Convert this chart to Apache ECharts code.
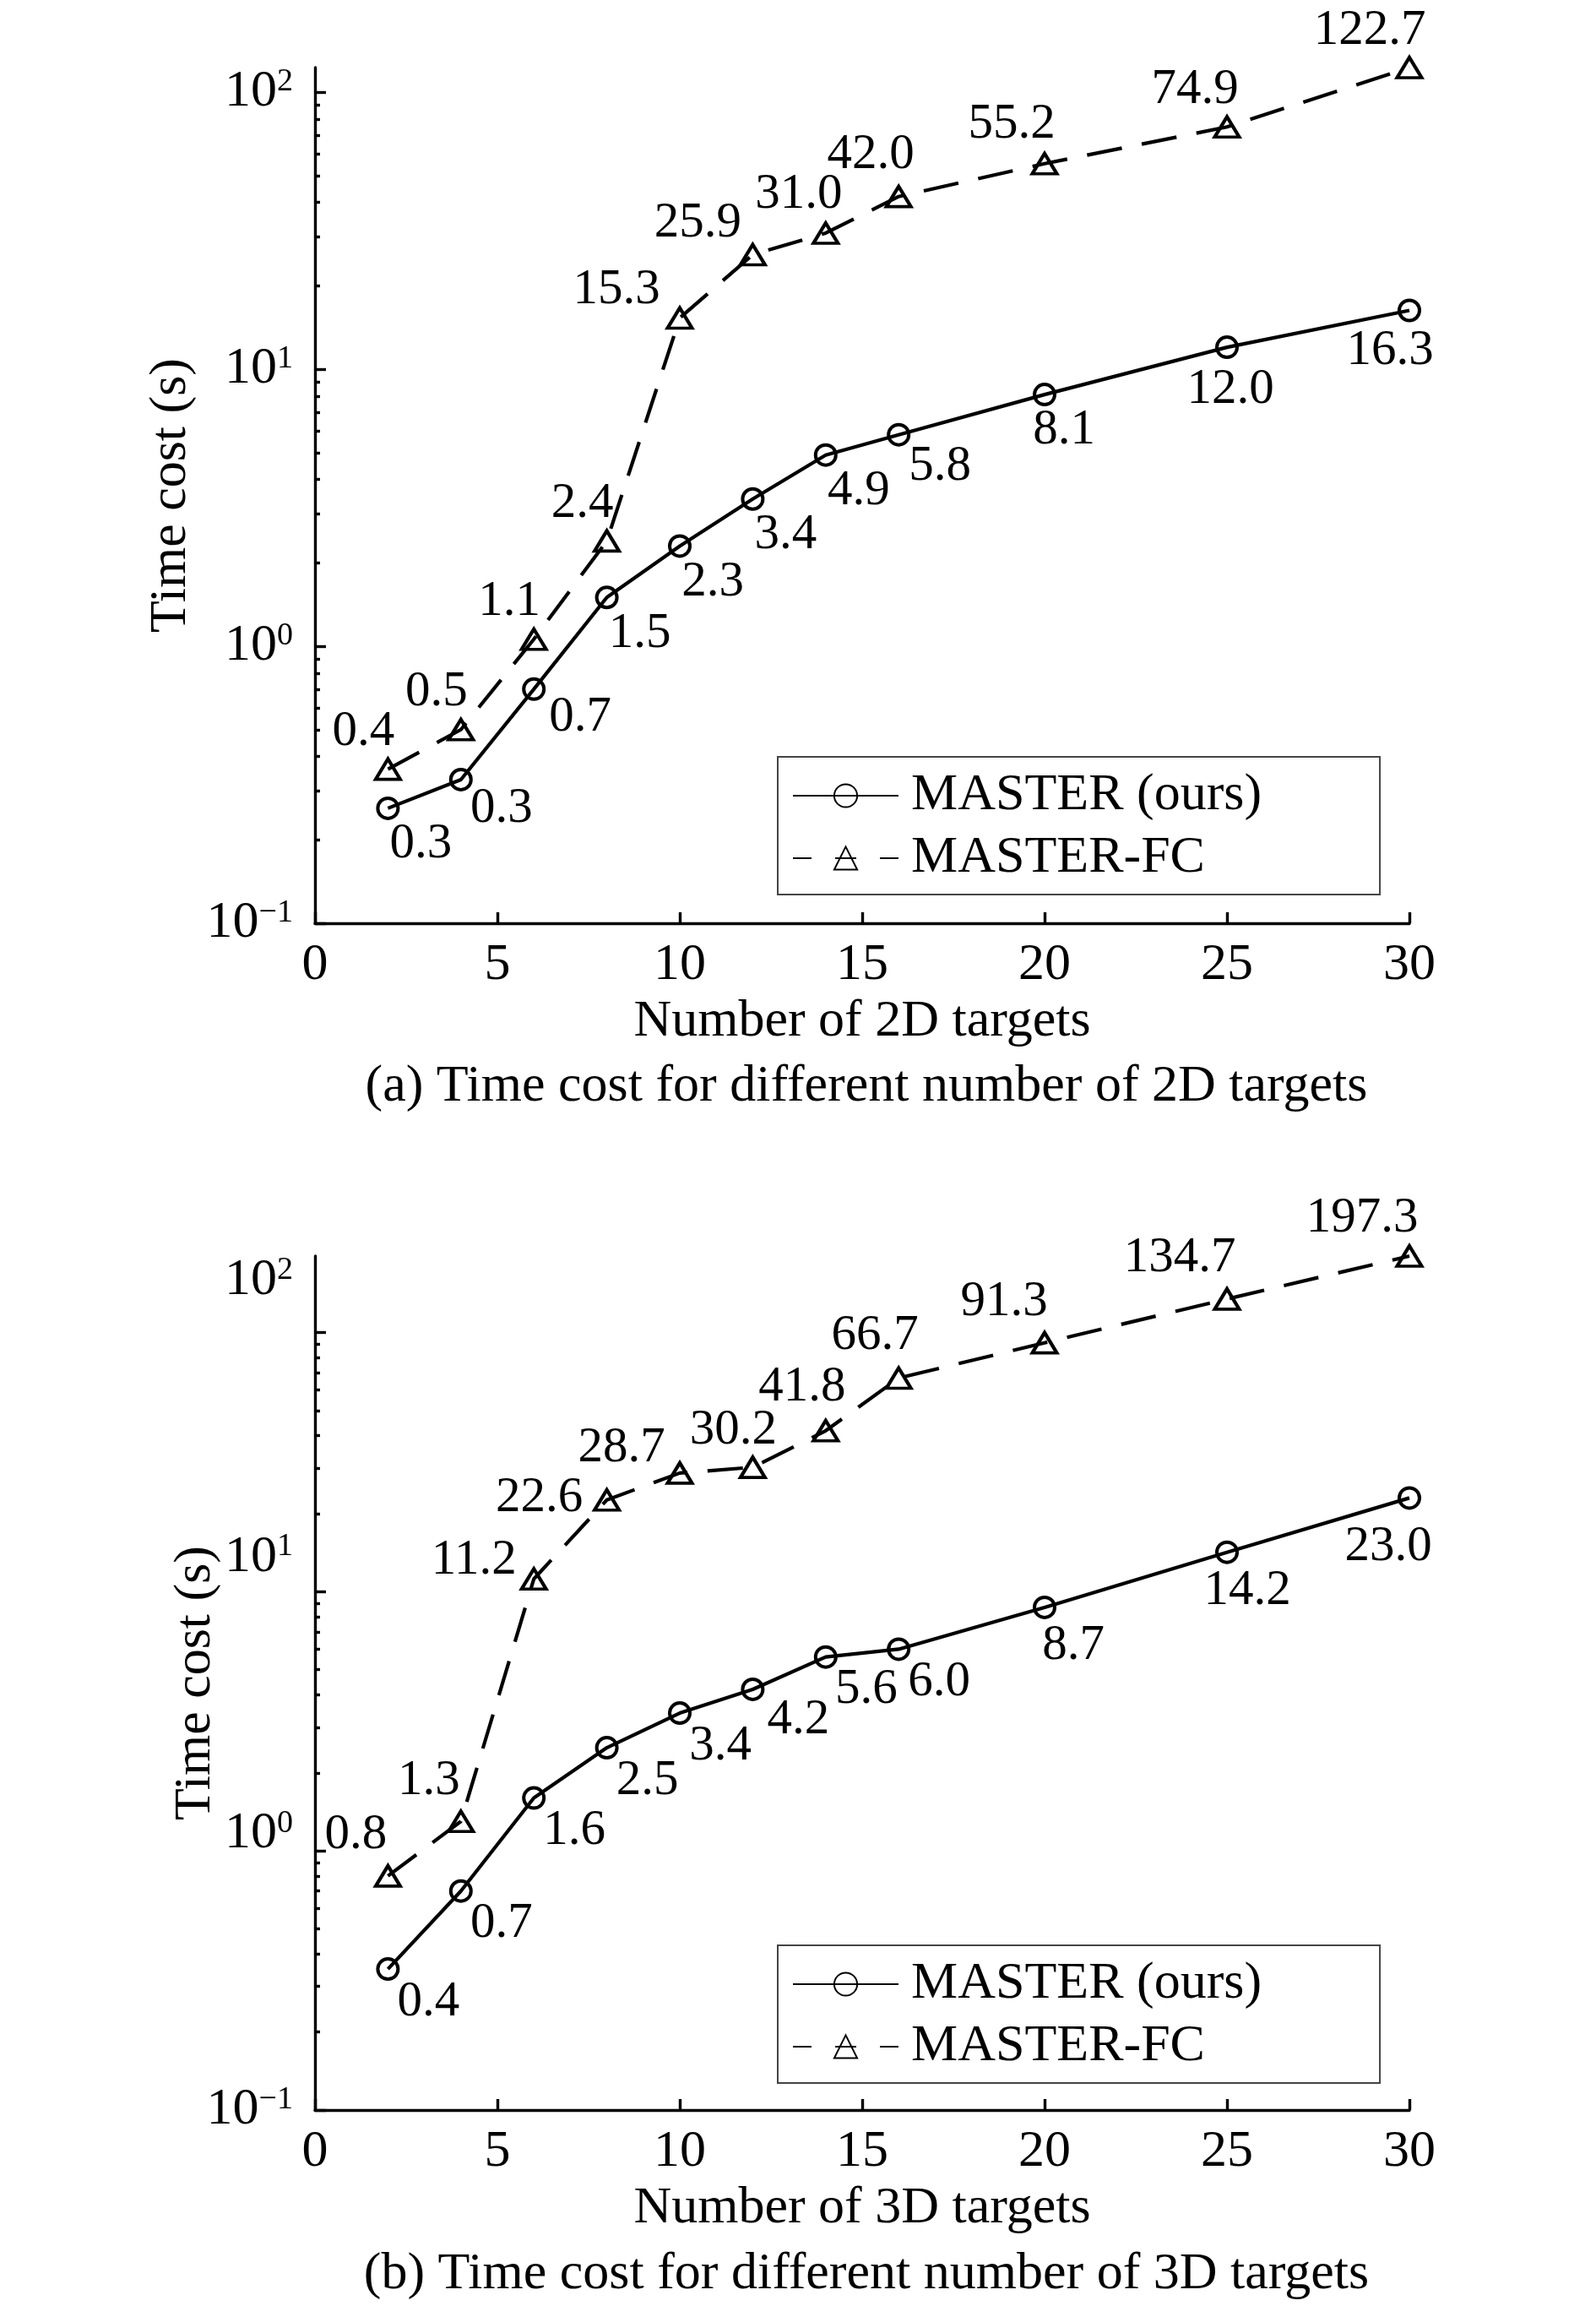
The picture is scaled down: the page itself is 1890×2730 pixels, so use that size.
<!DOCTYPE html>
<html>
<head>
<meta charset="utf-8">
<script src="https://cdn.jsdelivr.net/npm/echarts@6/dist/echarts.min.js"></script>
<style>
html, body { margin: 0; padding: 0; background: #fff; }
#chart { width: 1890px; height: 2730px; }
</style>
</head>
<body>
<div id="chart"></div>
<script>
// number of targets (x)
var targets = [2, 4, 6, 8, 10, 12, 14, 16, 20, 25, 30];

// (a) 2D targets, time cost in seconds
var master2d = [0.26, 0.33, 0.7, 1.5, 2.3, 3.4, 4.9, 5.8, 8.1, 12.0, 16.3];
var master2dText = ['0.3', '0.3', '0.7', '1.5', '2.3', '3.4', '4.9', '5.8', '8.1', '12.0', '16.3'];
var fc2d = [0.36, 0.5, 1.06, 2.4, 15.3, 25.9, 31.0, 42.0, 55.2, 74.9, 122.7];
var fc2dText = ['0.4', '0.5', '1.1', '2.4', '15.3', '25.9', '31.0', '42.0', '55.2', '74.9', '122.7'];

// (b) 3D targets
var master3d = [0.35, 0.7, 1.6, 2.5, 3.4, 4.2, 5.6, 6.0, 8.7, 14.2, 23.0];
var master3dText = ['0.4', '0.7', '1.6', '2.5', '3.4', '4.2', '5.6', '6.0', '8.7', '14.2', '23.0'];
var fc3d = [0.8, 1.3, 11.2, 22.6, 28.7, 30.2, 41.8, 66.7, 91.3, 134.7, 197.3];
var fc3dText = ['0.8', '1.3', '11.2', '22.6', '28.7', '30.2', '41.8', '66.7', '91.3', '134.7', '197.3'];

// y ticks (log scale)
var decades = [0.1, 1, 10, 100];
var minorSteps = [2, 3, 4, 5, 6, 7, 8, 9];
var minorTicks = [];
decades.slice(0, 3).forEach(function (d) {
    minorSteps.forEach(function (k) { minorTicks.push(k * d); });
});

var FONT = '"Liberation Serif", "Times New Roman", serif';
var lg = function (v) { return Math.log10(v); };
var sup = function (v) {
    var e = Math.round(v);
    return '{b|10}{s|' + (e < 0 ? '\u2212' + (-e) : e) + '}';
};
var txt = {fontSize: 62, fontFamily: FONT, color: '#000', fontWeight: 'normal'};
var supRich = {
    b: {fontSize: 62, fontFamily: FONT, color: '#000'},
    s: {fontSize: 38, fontFamily: FONT, color: '#000', verticalAlign: 'top'}
};

// label offsets (px) from the marker, default + exceptions by point index
function offsets(def, ex) {
    return targets.map(function (t, i) { return ex[i] || def; });
}
var offMaster2d = offsets([39, 43], {1: [48, 35], 2: [55, 34], 7: [49, 38], 8: [23, 42], 9: [4, 50], 10: [-23, 48]});
var offFc2d = offsets([-29, -44], {4: [-75, -33], 5: [-65, -37], 6: [-32, -45], 7: [-33, -49], 8: [-39, -46], 9: [-38, -44], 10: [-47, -44]});
var offMaster3d = offsets([48, 39], {5: [54, 37], 8: [34, 46], 9: [24, 46], 10: [-25, 58]});
var offFc3d = offsets([-38, -48], {2: [-71, -22], 3: [-80, -2], 4: [-69, -29], 5: [-23, -44], 6: [-28, -51], 7: [-28, -50], 8: [-48, -48], 9: [-56, -48], 10: [-56, -45]});

function xAxisCfg(grid, name) {
    return {
        type: 'value', gridIndex: grid, min: 0, max: 30, interval: 5,
        name: name, nameLocation: 'middle', nameGap: 86, nameTextStyle: txt,
        axisLine: {onZero: false, lineStyle: {color: '#000', width: 3.4}},
        axisTick: {inside: true, length: 13, lineStyle: {color: '#000', width: 3.4}},
        axisLabel: {margin: 19, fontSize: 62, fontFamily: FONT, color: '#000'},
        splitLine: {show: false}
    };
}

function yMain(grid, maxV, withLabels, name) {
    return {
        type: 'value', gridIndex: grid, position: 'left', min: -1, max: lg(maxV),
        name: name, nameLocation: 'middle', nameGap: 110, nameTextStyle: txt,
        axisLine: {show: true, onZero: false, lineStyle: {color: '#000', width: 3.4}},
        axisTick: {inside: true, length: 13, customValues: decades.map(lg), lineStyle: {color: '#000', width: 3.4}},
        axisLabel: {show: withLabels, margin: 26, customValues: decades.map(lg), formatter: sup, rich: supRich},
        splitLine: {show: false}
    };
}

function yMinor(grid, maxV) {
    return {
        type: 'value', gridIndex: grid, position: 'left', min: -1, max: lg(maxV),
        axisLine: {show: false, onZero: false},
        axisTick: {show: true, inside: true, length: 6, customValues: minorTicks.map(lg), lineStyle: {color: '#000', width: 3.4}},
        axisLabel: {show: false},
        splitLine: {show: false}
    };
}

// bottom panel: decade labels follow the (a) range, as drawn in the figure
function yLabelsOnly(grid, maxV) {
    return {
        type: 'value', gridIndex: grid, position: 'left', min: -1, max: lg(maxV),
        axisLine: {show: false, onZero: false},
        axisTick: {show: false},
        axisLabel: {show: true, margin: 26, customValues: decades.map(lg), formatter: sup, rich: supRich},
        splitLine: {show: false}
    };
}

function lineSeries(name, xi, yi, vals, texts, offs, dashed) {
    return {
        type: 'line', name: name, xAxisIndex: xi, yAxisIndex: yi,
        data: vals.map(function (v, i) {
            return {value: [targets[i], lg(v)], label: {offset: offs[i]}};
        }),
        symbol: dashed ? 'triangle' : 'circle',
        symbolSize: dashed ? [29, 24] : 24,
        showSymbol: true, clip: false,
        lineStyle: {color: '#000', width: 4.2, type: dashed ? [42, 24] : 'solid'},
        itemStyle: {color: 'rgba(0,0,0,0)', borderColor: '#000', borderWidth: 4},
        label: {
            show: true, position: 'inside', align: 'center', verticalAlign: 'middle',
            formatter: function (p) { return texts[p.dataIndex]; },
            fontSize: 59, fontFamily: FONT, color: '#000', textBorderWidth: 0
        },
        emphasis: {disabled: true}
    };
}

function legendAt(top) {
    return {
        data: [
            {name: 'MASTER (ours)'},
            {name: 'MASTER-FC', lineStyle: {type: [22, 28, 25, 28, 22, 125]}}
        ],
        orient: 'vertical',
        left: 921, top: top, padding: [15, 140, 12, 17], itemGap: 12,
        itemWidth: 125, itemHeight: 34,
        borderColor: '#444', borderWidth: 2, backgroundColor: '#fff',
        textStyle: {fontSize: 62, fontFamily: FONT, color: '#000', padding: [0, 0, 0, 10]},
        selectedMode: false
    };
}

var chart = echarts.init(document.getElementById('chart'));
chart.setOption({
    backgroundColor: '#fff',
    animation: false,
    title: [
        {text: '(a) Time cost for different number of 2D targets', left: 1026, top: 1256, textAlign: 'center', padding: 0, textStyle: txt},
        {text: '(b) Time cost for different number of 3D targets', left: 1026, top: 2662, textAlign: 'center', padding: 0, textStyle: txt}
    ],
    legend: [legendAt(896), legendAt(2303)],
    grid: [
        {left: 373, top: 80, width: 1296, height: 1013, outerBoundsMode: 'none'},
        {left: 373, top: 1487, width: 1296, height: 1011, outerBoundsMode: 'none'}
    ],
    xAxis: [xAxisCfg(0, 'Number of 2D targets'), xAxisCfg(1, 'Number of 3D targets')],
    yAxis: [
        yMain(0, 122.7, true, 'Time cost (s)'),
        yMinor(0, 122.7),
        yMain(1, 197.3, false, 'Time cost (s)'),
        yMinor(1, 197.3),
        yLabelsOnly(1, 122.7)
    ],
    series: [
        lineSeries('MASTER (ours)', 0, 0, master2d, master2dText, offMaster2d, false),
        lineSeries('MASTER-FC', 0, 0, fc2d, fc2dText, offFc2d, true),
        lineSeries('MASTER (ours)', 1, 2, master3d, master3dText, offMaster3d, false),
        lineSeries('MASTER-FC', 1, 2, fc3d, fc3dText, offFc3d, true)
    ]
});
</script>
</body>
</html>
